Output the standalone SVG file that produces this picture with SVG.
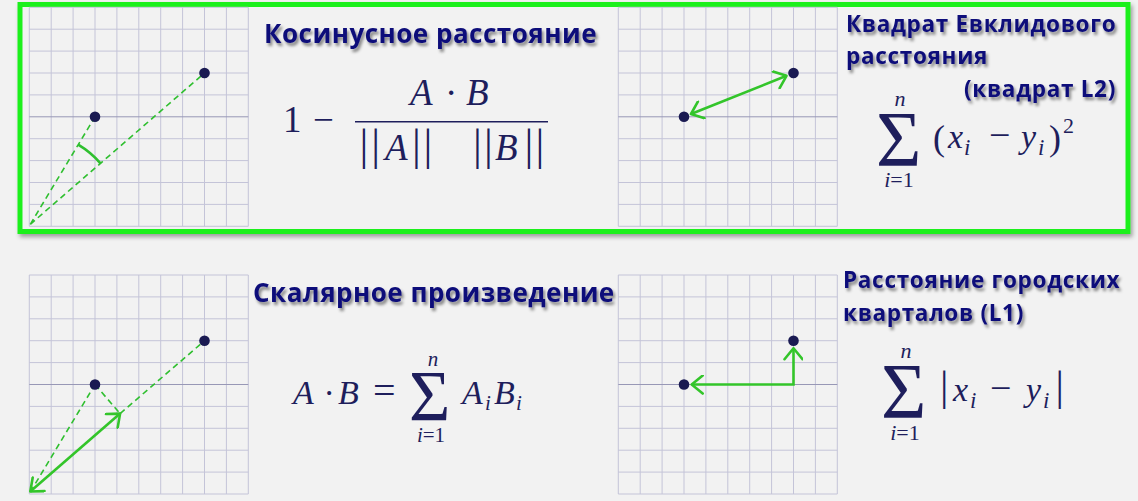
<svg xmlns="http://www.w3.org/2000/svg" width="1138" height="501" viewBox="0 0 1138 501">
<style>
.bg{fill:#f2f2f2}
.grid{fill:none;stroke:#c4c4d8;stroke-width:1}
.gmid{fill:none;stroke:#9898b6;stroke-width:1}
.dot{fill:#1a1a52}
.dash{fill:none;stroke:#2fbf2f;stroke-width:1.6;stroke-dasharray:6 4}
.arc{fill:none;stroke:#2fbf2f;stroke-width:2.6}
.arr{fill:none;stroke:#33c52a;stroke-width:2.6}
.title{font-family:"Open Sans","Noto Sans",sans-serif;font-weight:bold;fill:#10107a}
.m{font-family:"Liberation Serif",serif;fill:#1e1e5c}
.it{font-style:italic}
</style>
<defs>
<filter id="sh" x="-10%" y="-30%" width="120%" height="170%">
<feDropShadow dx="2" dy="3" stdDeviation="1.6" flood-color="#000" flood-opacity="0.45"/>
</filter>
<filter id="boxsh" x="-5%" y="-5%" width="110%" height="115%">
<feDropShadow dx="2" dy="3" stdDeviation="2" flood-color="#000" flood-opacity="0.35"/>
</filter>
<marker id="chev" viewBox="-14 -10 16 20" refX="0" refY="0" markerWidth="16" markerHeight="20" markerUnits="userSpaceOnUse" orient="auto-start-reverse">
<path d="M-11 -9 L0 0 L-11 9" fill="none" stroke="#33c52a" stroke-width="2.6" stroke-linecap="round" stroke-linejoin="round"/>
</marker>
<g id="grid">
<path class="grid" d="M0 0V219M21.9 0V219M43.8 0V219M65.7 0V219M87.6 0V219M109.5 0V219M131.4 0V219M153.3 0V219M175.2 0V219M197.1 0V219M219 0V219M0 0H219M0 21.9H219M0 43.8H219M0 65.7H219M0 87.6H219M0 131.4H219M0 153.3H219M0 175.2H219M0 197.1H219M0 219H219"/>
<path class="gmid" d="M0 109.5H219"/>
</g>
</defs>
<rect class="bg" x="0" y="0" width="1138" height="501"/>
<rect x="20" y="4.5" width="1108" height="227" fill="#f2f2f2" stroke="#1ef01e" stroke-width="5" filter="url(#boxsh)"/>

<g id="cosine">
<g transform="translate(29.3 7.3)">
<use href="#grid"/>
<path class="dash" d="M1 217L65.7 109.5M1 217L175.2 65.7"/>
<path class="arc" d="M48.9 137.3A93 93 0 0 1 71.2 156"/>
<circle class="dot" cx="65.7" cy="109.5" r="5.3"/>
<circle class="dot" cx="175.2" cy="65.7" r="5.3"/>
</g>
<text class="title" x="264" y="43" font-size="26" letter-spacing="0.5" filter="url(#sh)">Косинусное расстояние</text>
<g class="m">
<text x="283" y="132" font-size="37">1</text>
<text x="313" y="132" font-size="37">−</text>
<line x1="355" y1="121.7" x2="548" y2="121.7" stroke="#1e1e5c" stroke-width="1.6"/>
<text y="105" font-size="37"><tspan class="it" x="410">A</tspan><tspan x="445">·</tspan><tspan class="it" x="466">B</tspan></text>
<text y="160" font-size="44"><tspan x="359.6 371.3">||</tspan><tspan x="412 423.6">||</tspan><tspan x="473 484">||</tspan><tspan x="524.6 535.6">||</tspan></text>
<text y="160" font-size="37" class="it"><tspan x="385">A</tspan><tspan x="495">B</tspan></text>
</g>
</g>

<g id="euclid">
<g transform="translate(618.3 7.3)">
<use href="#grid"/>
<path class="arr" d="M72.7 106.7L168.2 68.5" marker-start="url(#chev)" marker-end="url(#chev)"/>
<circle class="dot" cx="65.7" cy="109.5" r="5.3"/>
<circle class="dot" cx="175.2" cy="65.7" r="5.3"/>
</g>
<g class="title" font-size="22.5" letter-spacing="0.7" filter="url(#sh)">
<text x="846" y="32">Квадрат Евклидового</text>
<text x="846" y="64">расстояния</text>
<text x="1116" y="97" text-anchor="end">(квадрат L2)</text>
</g>
<g class="m">
<text x="876" y="165" font-size="78">Σ</text>
<text x="900" y="106" font-size="22" class="it" text-anchor="middle">n</text>
<text x="899" y="187" font-size="22" text-anchor="middle"><tspan class="it">i</tspan>=1</text>
<text x="933" y="150" font-size="36">(</text>
<text x="948" y="148" font-size="34" class="it">x</text>
<text x="964" y="155" font-size="23" class="it">i</text>
<text x="989" y="148" font-size="38">−</text>
<text x="1021" y="148" font-size="34" class="it">y</text>
<text x="1038" y="155" font-size="23" class="it">i</text>
<text x="1049" y="150" font-size="36">)</text>
<text x="1063" y="133" font-size="22">2</text>
</g>
</g>

<g id="dotproduct">
<g transform="translate(29.3 275)">
<use href="#grid"/>
<path class="dash" d="M1 217L65.7 109.5M65.7 109.5L90.8 138.6M90.8 138.6L175.2 65.7"/>
<path class="arr" d="M1 216.5L90.8 138.6" marker-start="url(#chev)" marker-end="url(#chev)"/>
<circle class="dot" cx="65.7" cy="109.5" r="5.3"/>
<circle class="dot" cx="175.2" cy="65.7" r="5.3"/>
</g>
<text class="title" x="253" y="302" font-size="26" letter-spacing="0.5" filter="url(#sh)">Скалярное произведение</text>
<g class="m">
<text y="404" font-size="34"><tspan class="it" x="293">A</tspan><tspan x="323.5">·</tspan><tspan class="it" x="338">B</tspan></text>
<text x="373" y="404" font-size="40">=</text>
<text x="409" y="420" font-size="71">Σ</text>
<text x="433" y="366" font-size="21" class="it" text-anchor="middle">n</text>
<text x="431" y="442" font-size="21" text-anchor="middle"><tspan class="it">i</tspan>=1</text>
<text y="404" font-size="34" class="it"><tspan x="462">A</tspan><tspan x="494">B</tspan></text>
<text y="410" font-size="21" class="it"><tspan x="485">i</tspan><tspan x="516">i</tspan></text>
</g>
</g>

<g id="manhattan">
<g transform="translate(618.3 275)">
<use href="#grid"/>
<path class="arr" d="M73.4 109.5L175.2 109.5L175.2 73.2" marker-start="url(#chev)" marker-end="url(#chev)"/>
<circle class="dot" cx="65.7" cy="109.5" r="5.3"/>
<circle class="dot" cx="175.2" cy="65.7" r="5.3"/>
</g>
<g class="title" font-size="22.5" letter-spacing="0.7" filter="url(#sh)">
<text x="843" y="288">Расстояние городских</text>
<text x="843" y="321">кварталов (L1)</text>
</g>
<g class="m">
<text x="881" y="417" font-size="78">Σ</text>
<text x="906" y="358" font-size="22" class="it" text-anchor="middle">n</text>
<text x="905" y="440" font-size="22" text-anchor="middle"><tspan class="it">i</tspan>=1</text>
<text x="940" y="400" font-size="42">|</text>
<text x="953" y="401" font-size="34" class="it">x</text>
<text x="970" y="408" font-size="23" class="it">i</text>
<text x="990" y="401" font-size="38">−</text>
<text x="1026" y="401" font-size="34" class="it">y</text>
<text x="1043" y="408" font-size="23" class="it">i</text>
<text x="1055.5" y="400" font-size="42">|</text>
</g>
</g>
</svg>
